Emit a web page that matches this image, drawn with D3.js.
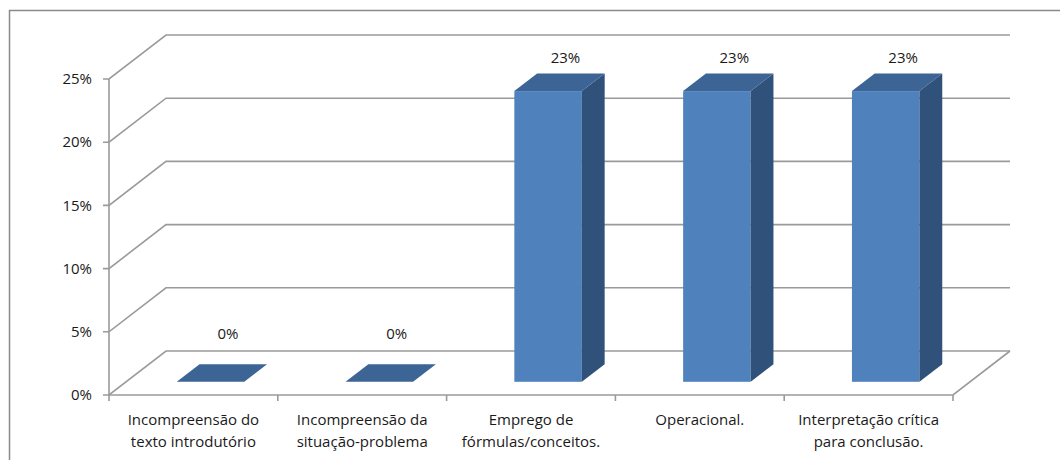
<!DOCTYPE html>
<html>
<head>
    <script src="https://d3js.org/d3.v7.min.js"></script>
    <style>
        body { margin: 0; background: #fff; }
        text { font-family: "Open Sans", "Noto Sans", sans-serif; fill: #1a1a1a; }
    </style>
</head>
<body>
    <div id="chart"></div>
    <script>

        const categories = [
            ["Incompreensão do", "texto introdutório"],
            ["Incompreensão da", "situação-problema"],
            ["Emprego de", "fórmulas/conceitos."],
            ["Operacional."],
            ["Interpretação crítica", "para conclusão."]
        ];
        const values = [0, 0, 23, 23, 23];
        const yTicks = [0, 5, 10, 15, 20, 25];

        const width = 1060;
        const height = 460;

        // depth of the 3D box (back wall offset) and bar depth span
        const DX = 57, DY = 44;
        const d0 = 0.3, d1 = 0.7;

        const svg = d3.select("#chart")
            .append("svg")
            .attr("width", width)
            .attr("height", height);

        // outer chart border
        svg.append("rect")
            .attr("x", 9.5)
            .attr("y", 10.5)
            .attr("width", 1100)
            .attr("height", 500)
            .attr("fill", "none")
            .attr("stroke", "#8a8a8a")
            .attr("stroke-width", 1.5);

        const idx = categories.map((c, i) => i);

        const xCat = d3.scaleBand()
            .domain(idx)
            .range([109, 953]);

        const xBar = d3.scaleBand()
            .domain(idx)
            .range([109, 953])
            .paddingInner(0.6)
            .paddingOuter(0.3);

        const y = d3.scaleLinear()
            .domain([0, 25])
            .range([395, 79]);

        const x0 = 109, x1 = 953;

        // gridlines on the side and back walls
        yTicks.forEach(t => {
            const yy = y(t);
            svg.append("path")
                .attr("d", `M${x0 - 6},${yy} L${x0},${yy} L${x0 + DX},${yy - DY} L${x1 + DX},${yy - DY}`)
                .attr("fill", "none")
                .attr("stroke", "#9a9a9a")
                .attr("stroke-width", 1.6);
        });

        // floor front edge and right edge
        svg.append("path")
            .attr("d", `M${x0},${y(0)} L${x1},${y(0)} L${x1 + DX},${y(0) - DY}`)
            .attr("fill", "none")
            .attr("stroke", "#9a9a9a")
            .attr("stroke-width", 1.6);

        // value axis
        svg.append("line")
            .attr("x1", x0).attr("x2", x0)
            .attr("y1", y(25)).attr("y2", y(0))
            .attr("stroke", "#9a9a9a")
            .attr("stroke-width", 1.6);

        // category ticks
        const bounds = idx.map(i => xCat(i)).concat([x1]);
        svg.selectAll(".xtick")
            .data(bounds)
            .enter()
            .append("line")
            .attr("x1", d => d).attr("x2", d => d)
            .attr("y1", y(0)).attr("y2", y(0) + 6)
            .attr("stroke", "#9a9a9a")
            .attr("stroke-width", 1.6);

        // y labels
        svg.selectAll(".ylab")
            .data(yTicks)
            .enter()
            .append("text")
            .attr("x", 92)
            .attr("y", d => y(d))
            .attr("dy", "0.35em")
            .attr("text-anchor", "end")
            .style("font-size", "15px")
            .text(d => d + "%");

        // category labels
        const catText = svg.selectAll(".xlab")
            .data(categories)
            .enter()
            .append("text")
            .attr("text-anchor", "middle")
            .style("font-size", "15px");
        catText.each(function (lines, i) {
            d3.select(this).selectAll("tspan")
                .data(lines)
                .enter()
                .append("tspan")
                .attr("x", xCat(i) + xCat.bandwidth() / 2)
                .attr("y", (l, k) => 425 + k * 22)
                .text(l => l);
        });

        const P = (px, py, d) => [px + d * DX, py - d * DY];
        const poly = pts => pts.map(p => p.join(",")).join(" ");

        const bars = svg.selectAll(".bar")
            .data(values)
            .enter()
            .append("g");

        bars.each(function (v, i) {
            const g = d3.select(this);
            const xl = xBar(i), xr = xBar(i) + xBar.bandwidth();
            const yb = y(0), yt = y(v);
            if (v > 0) {
                // front face
                const fl = P(xl, yt, d0), fr = P(xr, yb, d0);
                g.append("rect")
                    .attr("x", fl[0]).attr("y", fl[1])
                    .attr("width", fr[0] - fl[0])
                    .attr("height", fr[1] - fl[1])
                    .attr("fill", "#4f81bd");
                // side face
                g.append("polygon")
                    .attr("points", poly([P(xr, yt, d0), P(xr, yt, d1), P(xr, yb, d1), P(xr, yb, d0)]))
                    .attr("fill", "#30527a");
            }
            // top face
            g.append("polygon")
                .attr("points", poly([P(xl, yt, d0), P(xr, yt, d0), P(xr, yt, d1), P(xl, yt, d1)]))
                .attr("fill", "#3c6494");
        });

        // data labels
        svg.selectAll(".vlab")
            .data(values)
            .enter()
            .append("text")
            .attr("x", (v, i) => xBar(i) + xBar.bandwidth() / 2 + DX * (d0 + d1) / 2 + 6)
            .attr("y", v => Math.min(y(v) - d1 * DY - 10, y(0) - d1 * DY - 25))
            .attr("text-anchor", "middle")
            .style("font-size", "15px")
            .text(v => v + "%");

    </script>
</body>
</html>
